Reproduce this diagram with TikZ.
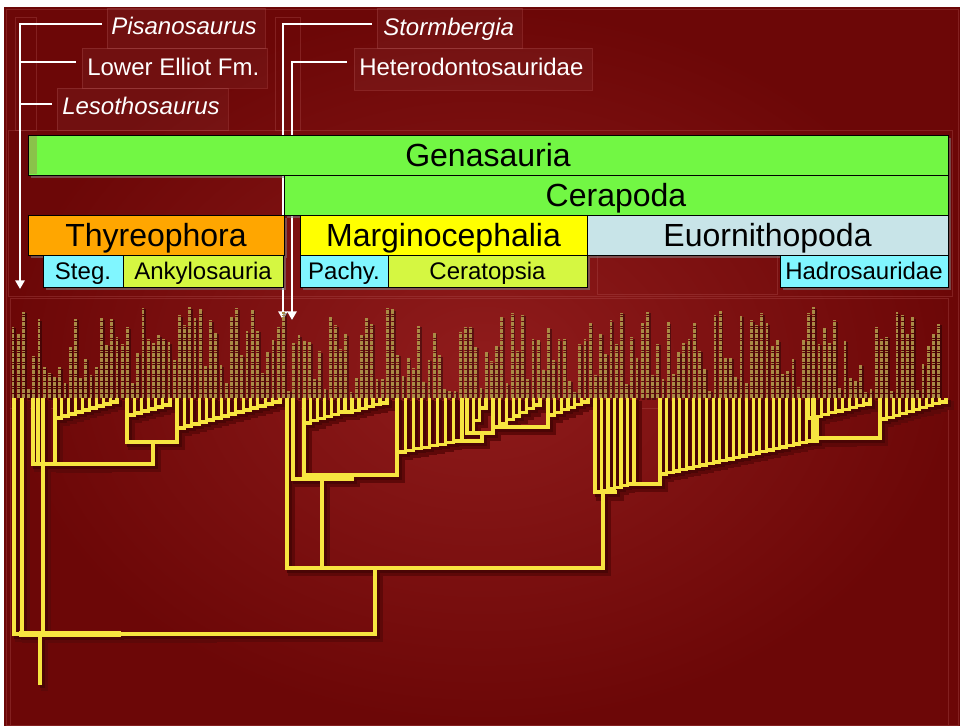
\documentclass[tikz,border=0pt]{standalone}
\usepackage{fontspec}
\setmainfont{Liberation Sans}
\usetikzlibrary{arrows.meta,shadows}
\definecolor{bgA}{HTML}{901C1C}
\definecolor{bgB}{HTML}{6C0707}
\definecolor{gen}{HTML}{72F744}
\definecolor{genD}{HTML}{8AC24A}
\definecolor{thy}{HTML}{FFA600}
\definecolor{mar}{HTML}{FFFF00}
\definecolor{euo}{HTML}{C8E4E8}
\definecolor{cya}{HTML}{80F6FF}
\definecolor{lim}{HTML}{D5F741}
\definecolor{tyel}{HTML}{F7E540}
\definecolor{namec}{HTML}{A98A45}
\definecolor{faint}{HTML}{B05050}
\definecolor{shad}{HTML}{4A0505}
\definecolor{shadsoft}{HTML}{5E0808}

\newcommand\comb[5]{%
  \foreach \ci in {1,...,#5}{%
    \pgfmathsetmacro\cxa{#1+(\ci-1)*(#2-#1)/#5}%
    \pgfmathsetmacro\cxb{#1+\ci*(#2-#1)/#5}%
    \pgfmathsetmacro\cya{#3+(\ci-1)*(#4-#3)/max(#5-1,1)}%
    \draw[tl] (\cxa,400)--(\cxa,\cya)--(\cxb,\cya)--(\cxb,400);
  }}

\newcommand\drawtree{%
  % root and basal taxa
  \draw[tl] (40,634)--(40,683);
  \draw[tl] (14,634)--(375,634);
  \draw[tlk] (22,634)--(118,634);
  \draw[tlm] (118,634)--(208,634);
  \draw[tl] (14,400)--(14,634);
  \draw[tl] (22,400)--(22,634);
  \draw[tl] (43,400)--(43,634);
  % Thyreophora
  \draw[tl] (33,400)--(33,464)--(153,464);
  \draw[tl] (38,400)--(38,464);
  \draw[tlm] (55,464)--(103,464);
  \draw[tl] (55,464)--(55,418);
  \comb{55}{117}{418}{402}{9}
  \draw[tl] (153,464)--(153,442);
  \draw[tl] (127,415)--(127,442)--(177,442)--(177,428);
  \comb{127}{170}{415}{405}{6}
  \comb{177}{280}{428}{402}{14}
  % Cerapoda
  \draw[tl] (375,634)--(375,568);
  \draw[tl] (287,400)--(287,568)--(603,568)--(603,492);
  \draw[tl] (322,568)--(322,479);
  \draw[tl] (293,400)--(293,479)--(352,479)--(352,475);
  \draw[tl] (304,423)--(304,475)--(397,475)--(397,452);
  \comb{304}{345}{423}{412}{6}
  \comb{345}{387}{412}{403}{6}
  \comb{397}{462}{452}{441}{8}
  \draw[tl] (462,441)--(482,441)--(482,433);
  \draw[tl] (467,433)--(493,433)--(493,427)--(548,427)--(548,415);
  \comb{467}{486}{433}{408}{3}
  \comb{493}{540}{427}{405}{7}
  \comb{548}{588}{415}{402}{6}
  % Ornithopoda
  \comb{595}{634}{492}{484}{6}
  \draw[tlm] (595,492)--(615,492);
  \draw[tl] (634,484)--(660,484)--(660,474);
  \comb{660}{813}{474}{441}{23}
  \draw[tl] (813,441)--(817,441)--(817,438)--(880,438)--(880,419);
  \draw[tlm] (817,438)--(848,438);
  \draw[tl] (817,438)--(817,418);
  \comb{808}{870}{418}{404}{9}
  \comb{880}{946}{419}{402}{10}
}

\begin{document}
\begin{tikzpicture}[x=0.75pt,y=-0.75pt,
  panel/.style={fill=white,fill opacity=.04,draw=faint,draw opacity=.35,line width=.5pt},
  frame/.style={draw=faint,draw opacity=.35,line width=.5pt},
  lbl/.style={text=white,inner sep=0pt,anchor=base west,font=\fontsize{18}{21}\selectfont},
  lblit/.style={lbl,font=\fontsize{18}{21}\selectfont\itshape},
  wl/.style={draw=white,line width=1.5pt},
  wlsh/.style={draw=black,draw opacity=.3,line width=2.2pt},
  arr/.style={-{Triangle[width=7pt,length=6.5pt]}},
  bigbar/.style={draw=black,line width=.6pt,inner sep=0pt,font=\fontsize{24}{28}\selectfont,
     text height=17.2pt,text depth=0pt,minimum height=30pt,
     drop shadow={shadow xshift=2.5pt,shadow yshift=-2.5pt,opacity=.55}},
  smallbar/.style={draw=black,line width=.6pt,inner sep=0pt,font=\fontsize{18}{21}\selectfont,
     text height=12.9pt,text depth=0pt,minimum height=24pt,
     drop shadow={shadow xshift=2.5pt,shadow yshift=-2.5pt,opacity=.55}},
  namecol/.style={draw=namec,line width=2.1pt,dash pattern=on 1.3pt off .5pt},
  namesh/.style={draw=black,draw opacity=.35,line width=2.6pt}
]
\useasboundingbox (0,0) rectangle (960,725);
\fill[white] (0,0) rectangle (960,725);
\shade[inner color=bgA,outer color=bgB] (4,7) rectangle (960,725);
\draw[frame] (6,9) rectangle (958,725);

% faint panels
\path[panel] (107,8) rectangle (265,48);
\path[panel] (82,48) rectangle (267,88);
\path[panel] (57,88) rectangle (228,130);
\path[panel] (377,8) rectangle (522,48);
\path[panel] (354,48) rectangle (592,90);
\draw[frame] (15,17) rectangle (36,130);
\draw[frame] (275,17) rectangle (300,130);
\draw[frame] (8,130) rectangle (952,296);
\draw[frame] (597,255) rectangle (777,294);
\draw[frame] (10,298) rectangle (948,408);
\draw[frame] (10,408) -- (10,725);
\draw[frame] (948,408) -- (948,725);

% top labels
\node[lblit] (pisa) at (111,34) {Pisanosaurus};
\node[lbl] (le) at (87,75) {Lower Elliot Fm.};
\node[lblit] (leso) at (62,114) {Lesothosaurus};
\node[lblit] (storm) at (383,35) {Stormbergia};
\node[lbl] (het) at (359,75) {Heterodontosauridae};

\coordinate (pisaL) at (102,24);
\coordinate (pisaV) at (20,24);
\coordinate (pisaTip) at (20,289);
\coordinate (leL) at (76,62);
\coordinate (leV) at (20,62);
\coordinate (lesoL) at (52,104);
\coordinate (lesoV) at (20,104);
\coordinate (stormL) at (372,24);
\coordinate (stormV) at (283,24);
\coordinate (stormTip) at (283,320);
\coordinate (hetL) at (347,62);
\coordinate (hetV) at (292,62);
\coordinate (hetTip) at (292,320);

\begin{scope}[shift={(2,2)}]
  \draw[wlsh] (pisaL) -- (pisaV) -- (pisaTip);
  \draw[wlsh] (leL) -- (leV);
  \draw[wlsh] (lesoL) -- (lesoV);
  \draw[wlsh] (stormL) -- (stormV) -- (stormTip);
  \draw[wlsh] (hetL) -- (hetV) -- (hetTip);
\end{scope}
\draw[wl,arr] (pisaL) -- (pisaV) -- (pisaTip);
\draw[wl] (leL) -- (leV);
\draw[wl] (lesoL) -- (lesoV);
\draw[wl,arr] (stormL) -- (stormV) -- (stormTip);
\draw[wl,arr] (hetL) -- (hetV) -- (hetTip);

% clade bars
\node[bigbar,fill=gen,minimum width=690pt] (gena) at (488,155) {Genasauria};
\fill[genD] (29,136) rectangle (37,174);
\node[bigbar,fill=gen,minimum width=498pt] (cera) at (616,195) {Cerapoda};
\node[bigbar,fill=thy,minimum width=192pt] (thyr) at (156,235) {Thyreophora};
\node[bigbar,fill=mar,minimum width=215.25pt] (marg) at (443.5,235) {Marginocephalia};
\node[bigbar,fill=euo,minimum width=270.75pt] (euor) at (767.5,235) {Euornithopoda};
\node[smallbar,fill=cya,minimum width=60pt] (steg) at (83,271) {Steg.};
\node[smallbar,fill=lim,minimum width=120pt] (anky) at (203,271) {Ankylosauria};
\node[smallbar,fill=cya,minimum width=66pt] (pach) at (344,271) {Pachy.};
\node[smallbar,fill=lim,minimum width=149.25pt] (cert) at (487.5,271) {Ceratopsia};
\node[smallbar,fill=cya,minimum width=126pt] (hadr) at (864,271) {Hadrosauridae};

% taxon name texture
\pgfmathsetseed{42}
\foreach \i in {0,...,178}{%
  \pgfmathsetmacro\xx{13+\i*5.2}%
  \pgfmathsetmacro\ytop{306+rnd*86}%
  \draw[namesh] (\xx+1.5,399.5)--(\xx+1.5,\ytop+1.5);
  \draw[namecol] (\xx,398)--(\xx,\ytop);
}

% tree shadow and tree
\begin{scope}[shift={(4.5,4.5)},line cap=rect,
   tl/.style={draw=shadsoft,line width=5pt},
   tlm/.style={draw=shadsoft,line width=6pt},
   tlk/.style={draw=shadsoft,line width=7pt}]
  \drawtree
\end{scope}
\begin{scope}[shift={(2.5,2.5)},line cap=rect,
   tl/.style={draw=shad,line width=3.2pt},
   tlm/.style={draw=shad,line width=4.2pt},
   tlk/.style={draw=shad,line width=5.2pt}]
  \drawtree
\end{scope}
\begin{scope}[line cap=rect,
   tl/.style={draw=tyel,line width=2.3pt},
   tlm/.style={draw=tyel,line width=3.6pt},
   tlk/.style={draw=tyel,line width=4.8pt}]
  \drawtree
\end{scope}
\end{tikzpicture}
\end{document}
